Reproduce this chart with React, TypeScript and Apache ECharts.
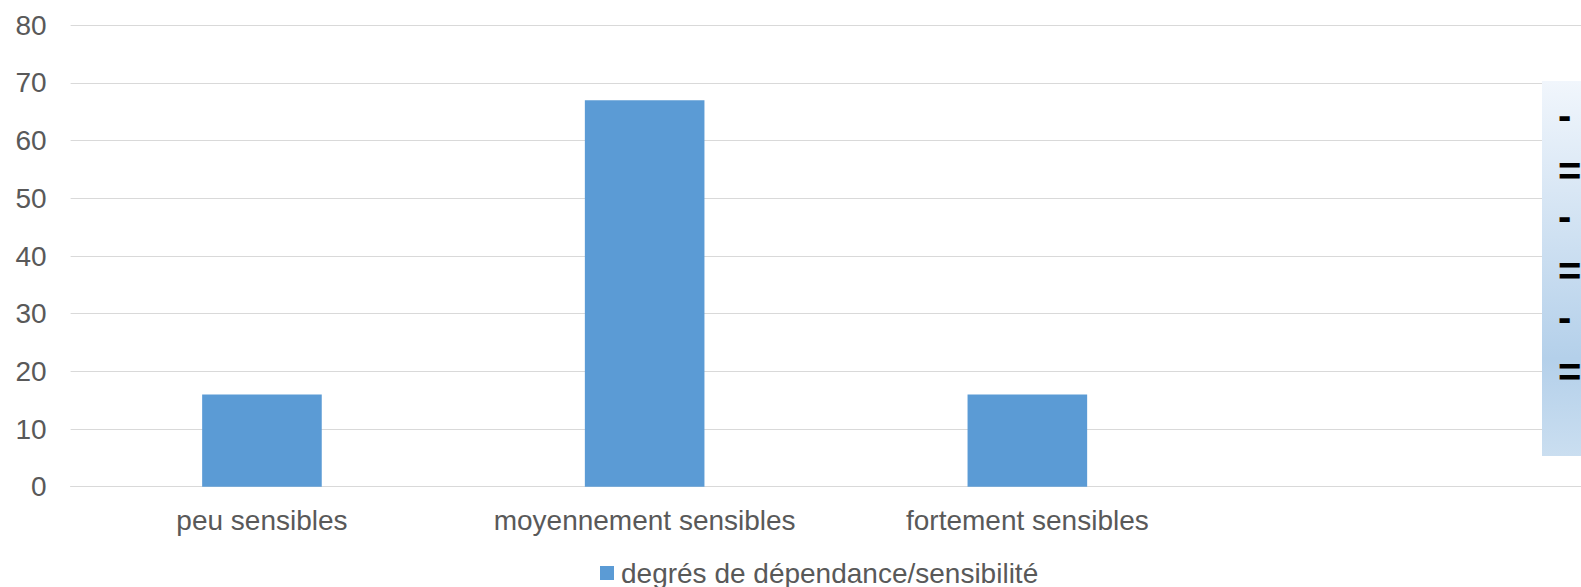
import React, { useEffect, useRef } from "react";
import * as echarts from "echarts";

const categories = ["peu sensibles", "moyennement sensibles", "fortement sensibles", ""];
const seriesName = "degrés de dépendance/sensibilité";
const values = [16, 67, 16, null];
const yTicks = { min: 0, max: 80, interval: 10 };
const boxSymbols = ["-", "=", "-", "=", "-", "="];
const boxSymbolY = [115, 171, 216, 271, 317, 372];

const FONT = "'Liberation Sans', Arial, sans-serif";
const GRAY = "#595959";

export default function App() {
  const ref = useRef<HTMLDivElement>(null);
  useEffect(() => {
    document.body.style.margin = "0";
    if (!ref.current) return;
    const chart = echarts.init(ref.current, undefined, { renderer: "svg" });
    chart.setOption({
      animation: false,
      backgroundColor: "#ffffff",
      textStyle: { fontFamily: FONT },
      grid: {
        left: 70.6,
        top: 25.3,
        width: 1530.8,
        height: 461.4,
        containLabel: false,
        outerBoundsMode: "none",
      },
      legend: {
        left: 600,
        top: 559,
        padding: 0,
        itemWidth: 14,
        itemHeight: 14,
        icon: "rect",
        textStyle: { fontSize: 28, color: GRAY, fontFamily: FONT, padding: [0, 0, 0, 2] },
        data: [seriesName],
      },
      xAxis: {
        type: "category",
        data: categories,
        axisTick: { show: false },
        axisLine: { show: true, lineStyle: { color: "#d9d9d9", width: 1 } },
        axisLabel: { fontSize: 28, color: GRAY, fontFamily: FONT, margin: 20, interval: 0 },
      },
      yAxis: {
        type: "value",
        min: yTicks.min,
        max: yTicks.max,
        interval: yTicks.interval,
        axisLine: { show: false },
        axisTick: { show: false },
        splitLine: { lineStyle: { color: "#d9d9d9", width: 1 } },
        axisLabel: { fontSize: 28, color: GRAY, fontFamily: FONT, margin: 24 },
      },
      series: [
        {
          name: seriesName,
          type: "bar",
          data: values,
          barWidth: 119.6,
          itemStyle: { color: "#5b9bd5" },
        },
      ],
      graphic: [
        {
          type: "rect",
          z: 100,
          shape: { x: 1542, y: 81, width: 60, height: 375 },
          style: {
            fill: new echarts.graphic.LinearGradient(0, 0, 0, 1, [
              { offset: 0, color: "#f1f6fc" },
              { offset: 0.74, color: "#b4d0ea" },
              { offset: 1, color: "#cadef0" },
            ]),
          },
        },
        ...boxSymbols.map((s, i) => ({
          type: "text",
          z: 101,
          x: 1558,
          y: boxSymbolY[i],
          style: {
            text: s,
            fontSize: 40,
            fontWeight: "bold",
            fontFamily: FONT,
            fill: "#000000",
            verticalAlign: "middle",
            align: "left",
          },
        })),
      ],
    });
    return () => chart.dispose();
  }, []);
  return <div ref={ref} style={{ width: 1581, height: 587 }} />;
}
